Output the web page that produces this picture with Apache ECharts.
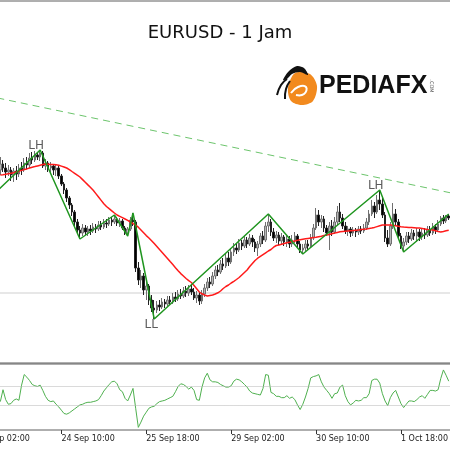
<!DOCTYPE html>
<html>
<head>
<meta charset="utf-8">
<script src="https://cdn.jsdelivr.net/npm/echarts@6/dist/echarts.min.js"></script>
<style>
  html, body { margin: 0; padding: 0; background: #fff; }
  #chart { width: 450px; height: 450px; }
</style>
</head>
<body>
<div id="chart"></div>
<script>
// EURUSD H1, [open, close, low, high]
const candles = [
  [1.1830,1.1836,1.1825,1.1843],[1.1836,1.1832,1.1828,1.1840],[1.1832,1.1828,1.1822,1.1837],[1.1828,1.1830,1.1824,1.1835],
  [1.1830,1.1825,1.1819,1.1833],[1.1825,1.1829,1.1818,1.1832],[1.1829,1.1826,1.1820,1.1834],[1.1826,1.1832,1.1823,1.1836],
  [1.1832,1.1830,1.1825,1.1838],[1.1830,1.1837,1.1828,1.1842],[1.1837,1.1835,1.1831,1.1843],[1.1835,1.1842,1.1832,1.1847],
  [1.1842,1.1840,1.1836,1.1848],[1.1840,1.1845,1.1838,1.1849],[1.1845,1.1843,1.1840,1.1848],[1.1843,1.1847,1.1839,1.1850],
  [1.1847,1.1834,1.1832,1.1849],[1.1834,1.1837,1.1830,1.1841],[1.1837,1.1832,1.1828,1.1839],[1.1832,1.1834,1.1827,1.1838],
  [1.1834,1.1830,1.1825,1.1836],[1.1830,1.1832,1.1824,1.1835],[1.1832,1.1824,1.1821,1.1834],[1.1824,1.1816,1.1814,1.1826],
  [1.1816,1.1810,1.1806,1.1818],[1.1810,1.1802,1.1798,1.1812],[1.1802,1.1795,1.1791,1.1804],[1.1795,1.1788,1.1784,1.1797],
  [1.1788,1.1778,1.1774,1.1790],[1.1778,1.1770,1.1766,1.1781],[1.1770,1.1767,1.1761,1.1774],[1.1767,1.1772,1.1764,1.1776],
  [1.1772,1.1768,1.1765,1.1775],[1.1768,1.1771,1.1764,1.1774],[1.1771,1.1769,1.1765,1.1775],[1.1769,1.1773,1.1767,1.1777],
  [1.1773,1.1771,1.1767,1.1776],[1.1771,1.1775,1.1769,1.1779],[1.1775,1.1773,1.1770,1.1779],[1.1773,1.1777,1.1771,1.1781],
  [1.1777,1.1776,1.1772,1.1781],[1.1776,1.1780,1.1774,1.1783],[1.1780,1.1778,1.1774,1.1783],[1.1778,1.1781,1.1776,1.1785],
  [1.1781,1.1777,1.1774,1.1783],[1.1777,1.1779,1.1773,1.1782],[1.1779,1.1772,1.1770,1.1781],[1.1772,1.1767,1.1765,1.1774],
  [1.1767,1.1771,1.1764,1.1773],[1.1771,1.1780,1.1769,1.1783],[1.1780,1.1778,1.1774,1.1787],[1.1778,1.1732,1.1728,1.1780],
  [1.1732,1.1720,1.1715,1.1738],[1.1720,1.1724,1.1712,1.1730],[1.1724,1.1710,1.1705,1.1727],[1.1710,1.1714,1.1700,1.1718],
  [1.1714,1.1700,1.1695,1.1716],[1.1700,1.1692,1.1688,1.1705],[1.1692,1.1690,1.1681,1.1700],[1.1690,1.1695,1.1687,1.1699],
  [1.1695,1.1693,1.1689,1.1700],[1.1693,1.1698,1.1691,1.1702],[1.1698,1.1696,1.1692,1.1701],[1.1696,1.1700,1.1694,1.1704],
  [1.1700,1.1698,1.1695,1.1704],[1.1698,1.1703,1.1696,1.1707],[1.1703,1.1701,1.1698,1.1708],[1.1701,1.1706,1.1699,1.1710],
  [1.1706,1.1704,1.1701,1.1711],[1.1704,1.1709,1.1702,1.1713],[1.1709,1.1707,1.1703,1.1714],[1.1707,1.1711,1.1704,1.1715],
  [1.1711,1.1708,1.1705,1.1716],[1.1708,1.1702,1.1700,1.1712],[1.1702,1.1705,1.1697,1.1709],[1.1705,1.1699,1.1695,1.1708],
  [1.1699,1.1706,1.1696,1.1710],[1.1706,1.1712,1.1703,1.1716],[1.1712,1.1718,1.1709,1.1722],[1.1718,1.1716,1.1712,1.1723],
  [1.1716,1.1724,1.1714,1.1728],[1.1724,1.1730,1.1721,1.1734],[1.1730,1.1728,1.1724,1.1735],[1.1728,1.1736,1.1726,1.1740],
  [1.1736,1.1734,1.1730,1.1742],[1.1734,1.1742,1.1732,1.1746],[1.1742,1.1738,1.1734,1.1748],[1.1738,1.1748,1.1736,1.1752],
  [1.1748,1.1752,1.1744,1.1757],[1.1752,1.1750,1.1746,1.1756],[1.1750,1.1757,1.1748,1.1761],[1.1757,1.1754,1.1750,1.1760],
  [1.1754,1.1760,1.1752,1.1764],[1.1760,1.1756,1.1752,1.1763],[1.1756,1.1762,1.1754,1.1766],[1.1762,1.1758,1.1753,1.1765],
  [1.1758,1.1752,1.1748,1.1761],[1.1752,1.1756,1.1744,1.1759],[1.1756,1.1764,1.1753,1.1767],[1.1764,1.1760,1.1756,1.1769],
  [1.1760,1.1774,1.1758,1.1778],[1.1774,1.1778,1.1768,1.1786],[1.1778,1.1768,1.1764,1.1781],[1.1768,1.1762,1.1759,1.1772],
  [1.1762,1.1765,1.1757,1.1769],[1.1765,1.1759,1.1755,1.1768],[1.1759,1.1763,1.1756,1.1767],[1.1763,1.1758,1.1754,1.1765],
  [1.1758,1.1761,1.1753,1.1764],[1.1761,1.1756,1.1752,1.1764],[1.1756,1.1760,1.1753,1.1765],[1.1760,1.1764,1.1757,1.1768],
  [1.1764,1.1756,1.1753,1.1766],[1.1756,1.1750,1.1747,1.1759],[1.1750,1.1752,1.1746,1.1756],[1.1752,1.1756,1.1749,1.1760],
  [1.1756,1.1754,1.1750,1.1760],[1.1754,1.1762,1.1752,1.1766],[1.1762,1.1772,1.1760,1.1776],[1.1772,1.1785,1.1770,1.1792],
  [1.1785,1.1778,1.1774,1.1790],[1.1778,1.1781,1.1772,1.1785],[1.1781,1.1772,1.1768,1.1784],[1.1772,1.1767,1.1764,1.1775],
  [1.1767,1.1774,1.1750,1.1778],[1.1774,1.1768,1.1764,1.1780],[1.1768,1.1778,1.1766,1.1783],[1.1778,1.1788,1.1775,1.1794],
  [1.1788,1.1782,1.1778,1.1797],[1.1782,1.1774,1.1771,1.1786],[1.1774,1.1769,1.1766,1.1778],[1.1769,1.1771,1.1764,1.1774],
  [1.1771,1.1767,1.1763,1.1773],[1.1767,1.1770,1.1764,1.1773],[1.1770,1.1768,1.1763,1.1772],[1.1768,1.1771,1.1765,1.1774],
  [1.1771,1.1769,1.1766,1.1774],[1.1769,1.1772,1.1767,1.1776],[1.1772,1.1778,1.1770,1.1782],[1.1778,1.1786,1.1775,1.1790],
  [1.1786,1.1794,1.1784,1.1800],[1.1794,1.1788,1.1782,1.1798],[1.1788,1.1800,1.1786,1.1805],[1.1800,1.1796,1.1790,1.1810],
  [1.1796,1.1785,1.1782,1.1802],[1.1785,1.1762,1.1758,1.1788],[1.1762,1.1756,1.1753,1.1770],[1.1756,1.1774,1.1754,1.1778],
  [1.1774,1.1786,1.1771,1.1797],[1.1786,1.1778,1.1775,1.1791],[1.1778,1.1764,1.1762,1.1781],[1.1764,1.1754,1.1751,1.1767],
  [1.1754,1.1758,1.1748,1.1762],[1.1758,1.1764,1.1755,1.1768],[1.1764,1.1761,1.1757,1.1768],[1.1761,1.1767,1.1759,1.1771],
  [1.1767,1.1764,1.1760,1.1770],[1.1764,1.1768,1.1758,1.1772],[1.1768,1.1763,1.1759,1.1771],[1.1763,1.1767,1.1760,1.1771],
  [1.1767,1.1765,1.1761,1.1772],[1.1765,1.1770,1.1763,1.1774],[1.1770,1.1767,1.1764,1.1774],[1.1767,1.1773,1.1765,1.1777],
  [1.1773,1.1770,1.1766,1.1776],[1.1770,1.1776,1.1768,1.1780],[1.1776,1.1782,1.1774,1.1784],[1.1782,1.1779,1.1776,1.1785],
  [1.1779,1.1784,1.1777,1.1785],[1.1784,1.1782,1.1780,1.1786]
];

// moving average (red)
const maValues = [
  1.18250,1.18253,1.18257,1.18262,1.18267,1.18272,1.18280,1.18288,1.18296,1.18304,
  1.18311,1.18320,1.18328,1.18334,1.18341,1.18348,1.18354,1.18360,1.18358,1.18356,
  1.18354,1.18352,1.18348,1.18339,1.18330,1.18320,1.18304,1.18285,1.18267,1.18248,
  1.18230,1.18204,1.18178,1.18151,1.18125,1.18097,1.18064,1.18030,1.17996,1.17962,
  1.17935,1.17913,1.17892,1.17870,1.17850,1.17837,1.17824,1.17810,1.17796,1.17780,
  1.17763,1.17748,1.17728,1.17700,1.17672,1.17644,1.17620,1.17593,1.17564,1.17534,
  1.17504,1.17475,1.17445,1.17415,1.17384,1.17354,1.17323,1.17293,1.17264,1.17240,
  1.17215,1.17193,1.17175,1.17145,1.17113,1.17080,1.17062,1.17050,1.17040,1.17045,
  1.17050,1.17060,1.17072,1.17090,1.17115,1.17135,1.17150,1.17170,1.17187,1.17205,
  1.17225,1.17250,1.17275,1.17300,1.17335,1.17365,1.17395,1.17418,1.17436,1.17454,
  1.17472,1.17490,1.17505,1.17528,1.17545,1.17551,1.17558,1.17565,1.17572,1.17578,
  1.17584,1.17591,1.17598,1.17603,1.17608,1.17612,1.17616,1.17620,1.17624,1.17628,
  1.17633,1.17638,1.17644,1.17650,1.17656,1.17663,1.17669,1.17676,1.17682,1.17685,
  1.17688,1.17691,1.17693,1.17695,1.17698,1.17700,1.17704,1.17708,1.17711,1.17715,
  1.17719,1.17726,1.17734,1.17742,1.17750,1.17750,1.17750,1.17750,1.17748,1.17743,
  1.17738,1.17733,1.17729,1.17727,1.17725,1.17724,1.17722,1.17720,1.17719,1.17716,
  1.17711,1.17706,1.17703,1.17700,1.17692,1.17685,1.17681,1.17686,1.17692,1.17697
];

// oscillator in the lower window
const oscValues = [
  43,61,46,39,40,45,47,45,68,84,
  80,75,69,67,66,68,60,51,45,43,
  44,39,35,30,25,24,26,29,32,35,
  38,39,41,42,42,43,44,46,52,59,
  64,69,73,74,70,61,58,48,44,53,
  63,33,4,12,21,27,33,35,36,40,
  43,44,45,47,49,51,58,66,70,69,
  66,62,65,60,46,45,65,79,86,76,
  73,73,72,69,67,65,65,67,74,77,
  76,73,69,65,59,56,55,54,53,63,
  84,83,57,55,51,51,49,49,52,48,
  50,46,38,31,39,50,63,79,81,82,
  84,73,65,60,55,48,55,56,65,68,
  52,43,38,41,45,44,45,49,49,55,
  75,77,77,71,55,44,37,49,56,60,
  50,40,34,39,44,44,43,46,50,52,
  48,54,60,60,59,61,78,91,83,74
];
const oscLevels = [67, 38];

// bar slots: 10 empty bars left of the picture, 1 empty bar on the right
const lead = 10;
const tail = 1;

// zigzag pivots [bar, price] (bar index counts the lead bars)
const zigzag = [
  [6,1.1802],[25,1.1850],[40,1.1761],[53,1.1785],[58,1.1764],[60,1.1787],
  [68,1.1681],[111,1.1786],[124,1.1746],[153,1.1810],[162,1.1748],[179,1.1786]
];
const pivotLabels = [
  { bar: 25, price: 1.1850, text: 'LH' },
  { bar: 68, price: 1.1681, text: 'LL' },
  { bar: 153, price: 1.1810, text: 'LH' }
];
const trendLine = [[0,1.1907],[180,1.1807]];
const levelPrice = 1.1707;

const tickBars = [1, 33, 65, 97, 129, 161];
const tickTexts = ['23 Sep 02:00', '24 Sep 10:00', '25 Sep 18:00', '29 Sep 02:00', '30 Sep 10:00', '1 Oct 18:00'];

const total = lead + candles.length + tail;
const cats = [];
for (let i = 0; i < total; i++) cats.push(String(i));
const tickMap = {};
tickBars.forEach((b, i) => { tickMap[b] = tickTexts[i]; });
const isTick = (idx) => tickMap[idx] !== undefined;

const padL = new Array(lead).fill('-');
const padR = new Array(tail).fill('-');

const chart = echarts.init(document.getElementById('chart'));

chart.setOption({
  animation: false,
  backgroundColor: '#ffffff',
  title: {
    text: 'EURUSD - 1 Jam',
    left: 215,
    top: 19,
    textAlign: 'center',
    textStyle: { fontFamily: 'DejaVu Sans', fontSize: 18, fontWeight: 'normal', color: '#111' }
  },
  grid: [
    { left: -27.5, right: -2.7, top: 1, bottom: 87, outerBoundsMode: 'none', containLabel: false, show: true, borderColor: '#5e5e5e', borderWidth: 1 },
    { left: -27.5, right: -2.7, top: 364, bottom: 20, outerBoundsMode: 'none', containLabel: false, show: true, borderColor: '#5e5e5e', borderWidth: 1 }
  ],
  xAxis: [
    { type: 'category', gridIndex: 0, data: cats, show: false },
    {
      type: 'category', gridIndex: 1, data: cats,
      axisLine: { show: false },
      axisTick: { show: true, alignWithLabel: true, interval: isTick, length: 4, lineStyle: { color: '#333' } },
      axisLabel: {
        interval: isTick,
        formatter: (v) => tickMap[v] || '',
        align: 'left',
        margin: 5,
        fontFamily: 'DejaVu Sans',
        fontSize: 8,
        color: '#222'
      },
      splitLine: { show: false }
    }
  ],
  yAxis: [
    { type: 'value', gridIndex: 0, min: 1.1637, max: 1.1999, show: false },
    { type: 'value', gridIndex: 1, min: 0, max: 100, show: false }
  ],
  series: [
    {
      name: 'level',
      type: 'line',
      xAxisIndex: 0, yAxisIndex: 0,
      data: [[0, levelPrice], [total - 1, levelPrice]],
      symbol: 'none',
      silent: true,
      lineStyle: { color: '#cfcfcf', width: 1 },
      z: 1
    },
    {
      name: 'trend',
      type: 'line',
      xAxisIndex: 0, yAxisIndex: 0,
      data: trendLine,
      symbol: 'none',
      silent: true,
      lineStyle: { color: '#6cc46c', width: 1, type: [7, 5] },
      z: 1
    },
    {
      name: 'EURUSD',
      type: 'candlestick',
      xAxisIndex: 0, yAxisIndex: 0,
      data: padL.concat(candles, padR),
      barWidth: 2,
      itemStyle: {
        color: '#b8b8b8',
        color0: '#000000',
        borderColor: '#707070',
        borderColor0: '#222222',
        borderWidth: 1
      },
      z: 2
    },
    {
      name: 'MA',
      type: 'line',
      xAxisIndex: 0, yAxisIndex: 0,
      data: padL.concat(maValues, padR),
      symbol: 'none',
      lineStyle: { color: '#ff1a1a', width: 1.5 },
      z: 3
    },
    {
      name: 'ZigZag',
      type: 'line',
      xAxisIndex: 0, yAxisIndex: 0,
      data: zigzag,
      symbol: 'none',
      lineStyle: { color: '#1f951f', width: 1.5 },
      z: 4
    },
    {
      name: 'pivots',
      type: 'scatter',
      xAxisIndex: 0, yAxisIndex: 0,
      symbolSize: 0,
      silent: true,
      data: pivotLabels.map(p => ({
        name: p.text,
        value: [p.bar, p.price],
        label: { offset: p.text === 'LL' ? [-3, 6] : [-4, -4] }
      })),
      label: {
        show: true,
        position: 'inside',
        formatter: '{b}',
        fontFamily: 'DejaVu Sans',
        fontSize: 12,
        color: '#333'
      },
      z: 5
    },
    {
      name: 'osc',
      type: 'line',
      xAxisIndex: 1, yAxisIndex: 1,
      data: padL.concat(oscValues, padR),
      symbol: 'none',
      lineStyle: { color: '#4fb04f', width: 1 },
      markLine: {
        silent: true,
        symbol: 'none',
        label: { show: false },
        lineStyle: { color: '#b5b5b5', width: 1, type: 'dotted' },
        data: oscLevels.map(v => ({ yAxis: v }))
      }
    }
  ],
  graphic: [
    // PEDIAFX logo
    { type: 'polygon', shape: { points: [[295,73],[310,74],[317,86],[313,101],[302,105],[291,101],[288,88]], smooth: 0.3 }, style: { fill: '#f28a1e' } },
    { type: 'polyline', shape: { points: [[291,93],[298,87],[306,87],[304,94],[296,95]], smooth: 0.5 }, style: { fill: null, stroke: '#ffffff', lineWidth: 2 } },
    { type: 'polygon', shape: { points: [[283,80],[289,71],[297,66],[304,68],[308,75],[300,72],[292,74],[287,79]], smooth: 0.3 }, style: { fill: '#111' } },
    { type: 'polyline', shape: { points: [[287,79],[281,85],[277,95]], smooth: 0.5 }, style: { fill: null, stroke: '#111', lineWidth: 2 } },
    { type: 'polyline', shape: { points: [[290,81],[286,89],[285,99]], smooth: 0.5 }, style: { fill: null, stroke: '#111', lineWidth: 2 } },
    { type: 'text', x: 319, y: 86, style: { text: 'PEDIAFX', font: 'bold 25px "Liberation Sans"', fill: '#111', textVerticalAlign: 'middle' } },
    { type: 'text', x: 431, y: 86, rotation: -Math.PI / 2, style: { text: '.COM', font: '5px "DejaVu Sans"', fill: '#555', textAlign: 'center', textVerticalAlign: 'middle' } }
  ]
});
</script>
</body>
</html>
